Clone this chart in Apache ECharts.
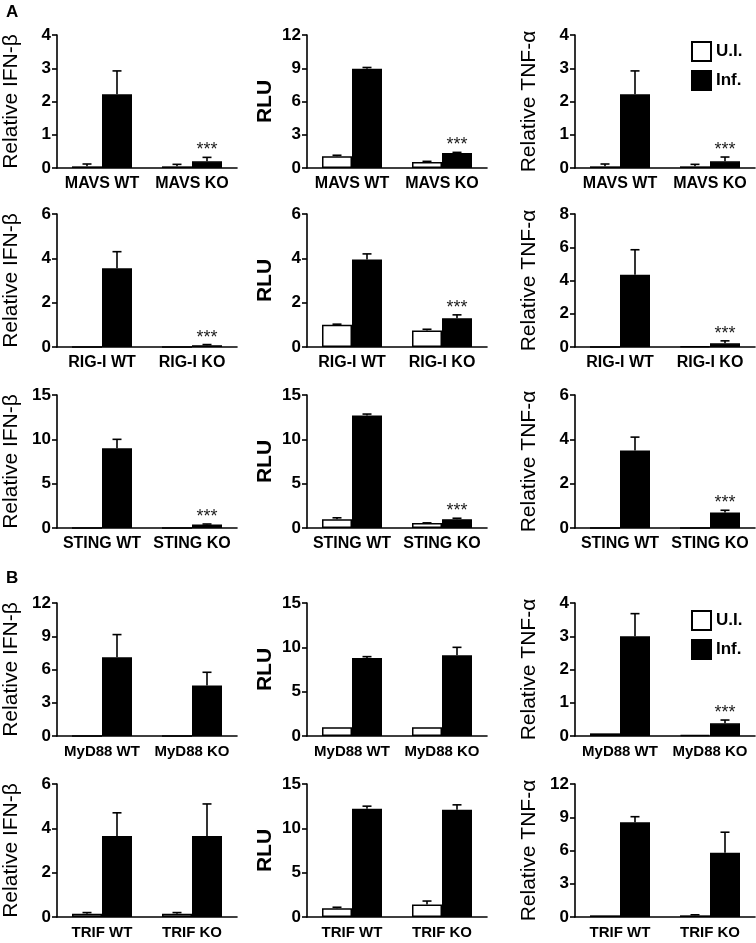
<!DOCTYPE html>
<html>
<head>
<meta charset="utf-8">
<script src="https://cdn.jsdelivr.net/npm/echarts@6/dist/echarts.min.js"></script>
<style>html,body{margin:0;padding:0;background:#fff}#c{width:756px;height:943px}</style>
</head>
<body>
<div id="c"></div>
<script>
// ---- data ----
const groups = [
  ['MAVS WT', 'MAVS KO'],
  ['RIG-I WT', 'RIG-I KO'],
  ['STING WT', 'STING KO'],
  ['MyD88 WT', 'MyD88 KO'],
  ['TRIF WT', 'TRIF KO']
];
const yTitles = ['Relative IFN-β', 'RLU', 'Relative TNF-α'];
const yMax  = [[4, 12, 4], [6, 6, 8], [15, 15, 6], [12, 15, 4], [6, 15, 12]];
const yStep = [[1, 3, 1], [2, 2, 2], [5, 5, 2], [3, 5, 1], [2, 5, 3]];
// U.I. means / errors [WT, KO]
const uiMean = [
  [[0.05, 0.05], [1.05, 0.55], [0.05, 0.05]],
  [[0, 0], [1.0, 0.75], [0, 0.03]],
  [[0, 0], [1.0, 0.55], [0, 0]],
  [[0, 0], [1.0, 1.0], [0.08, 0.03]],
  [[0.15, 0.15], [1.0, 1.4], [0.15, 0.15]]
];
const uiErr = [
  [[0.07, 0.06], [0.1, 0.05], [0.07, 0.06]],
  [[0, 0], [0.03, 0.05], [0, 0]],
  [[0, 0], [0.15, 0.03], [0, 0]],
  [[0, 0], [0, 0], [0, 0]],
  [[0.05, 0.05], [0.1, 0.4], [0, 0.05]]
];
// Inf. means / errors [WT, KO]
const infMean = [
  [[2.22, 0.2], [8.95, 1.35], [2.22, 0.2]],
  [[3.55, 0.08], [3.95, 1.3], [4.35, 0.22]],
  [[9.0, 0.4], [12.7, 1.0], [3.5, 0.7]],
  [[7.1, 4.55], [8.8, 9.1], [3.0, 0.38]],
  [[3.65, 3.65], [12.2, 12.1], [8.55, 5.8]]
];
const infErr = [
  [[0.7, 0.12], [0.12, 0.06], [0.7, 0.13]],
  [[0.75, 0.03], [0.25, 0.15], [1.5, 0.15]],
  [[1.0, 0.05], [0.15, 0.1], [0.6, 0.1]],
  [[2.05, 1.2], [0.15, 0.9], [0.68, 0.1]],
  [[1.05, 1.45], [0.3, 0.55], [0.5, 1.85]]
];
// significance mark on KO infected bar
const sigMark = [
  [true, true, true],
  [true, true, true],
  [true, true, true],
  [false, false, true],
  [false, false, false]
];

// ---- layout ----
const rowTop = [35, 214, 395, 603, 784];
const rowH = 133;
const colLeft = [55, 307, 575];
const colW = [182, 180, 180];
const barW = 30;
const fontA = "'Liberation Sans', Arial, Helvetica, sans-serif";

const grid = [], xAxis = [], yAxis = [], series = [];
for (let r = 0; r < 5; r++) {
  for (let c = 0; c < 3; c++) {
    const idx = r * 3 + c;
    grid.push({left: colLeft[c], top: rowTop[r], width: colW[c], height: rowH});
    xAxis.push({
      type: 'category', gridIndex: idx, data: groups[r],
      axisLine: {lineStyle: {color: '#000', width: 1.6}},
      axisTick: {alignWithLabel: true, length: 5, lineStyle: {color: '#000', width: 1.6}},
      axisLabel: {color: '#000', fontWeight: 'bold', fontSize: r < 3 ? 16 : 15, fontFamily: fontA, margin: 8, interval: 0}
    });
    const isRLU = c === 1;
    yAxis.push({
      type: 'value', gridIndex: idx, min: 0, max: yMax[r][c], interval: yStep[r][c],
      name: yTitles[c], nameLocation: 'middle', nameRotate: 90,
      nameGap: isRLU ? 31 : 35,
      nameTextStyle: {color: '#000', fontSize: 21, fontWeight: isRLU ? 'bold' : 'normal', fontFamily: fontA},
      axisLine: {show: true, lineStyle: {color: '#000', width: 1.6}},
      axisTick: {show: true, length: 5, lineStyle: {color: '#000', width: 1.6}},
      splitLine: {show: false},
      axisLabel: {color: '#000', fontWeight: 'bold', fontSize: 17, fontFamily: fontA, margin: 6}
    });
    series.push({
      type: 'bar', name: 'U.I.', xAxisIndex: idx, yAxisIndex: idx,
      data: uiMean[r][c], barWidth: barW, barGap: '0%',
      itemStyle: {color: '#fff', borderColor: '#000', borderWidth: 1.5}, silent: true
    });
    series.push({
      type: 'bar', name: 'Inf.', xAxisIndex: idx, yAxisIndex: idx,
      data: infMean[r][c], barWidth: barW, barGap: '0%',
      itemStyle: {color: '#000', borderColor: '#000', borderWidth: 1.5}, silent: true
    });
    const errData = [];
    for (let k = 0; k < 2; k++) {
      errData.push([k, 0, uiMean[r][c][k], uiErr[r][c][k], 0]);
      errData.push([k, 1, infMean[r][c][k], infErr[r][c][k], (k === 1 && sigMark[r][c]) ? 1 : 0]);
    }
    series.push({
      type: 'custom', xAxisIndex: idx, yAxisIndex: idx, silent: true, z: 5,
      encode: {x: 0, y: 2},
      data: errData,
      renderItem: function (params, api) {
        const cat = api.value(0), s = api.value(1), v = api.value(2), e = api.value(3), sig = api.value(4);
        const base = api.coord([cat, v]);
        const top = api.coord([cat, v + e]);
        const x = base[0] + (s === 0 ? -barW / 2 : barW / 2);
        const children = [];
        if (e > 0) {
          children.push({type: 'line', shape: {x1: x, y1: base[1], x2: x, y2: top[1]}, style: {stroke: '#000', lineWidth: 1.6}});
          children.push({type: 'line', shape: {x1: x - 4.5, y1: top[1], x2: x + 4.5, y2: top[1]}, style: {stroke: '#000', lineWidth: 1.6}});
        }
        if (sig) {
          children.push({type: 'text', x: x, y: top[1] + 2, style: {text: '***', fill: '#222', font: '18px ' + fontA, textAlign: 'center', textVerticalAlign: 'bottom'}});
        }
        return {type: 'group', children: children};
      }
    });
  }
}

const legendBase = {
  orient: 'vertical', icon: 'rect', itemWidth: 19, itemHeight: 19, itemGap: 8,
  selectedMode: false, data: ['U.I.', 'Inf.'],
  textStyle: {color: '#000', fontWeight: 'bold', fontSize: 17, fontFamily: fontA}
};

const chart = echarts.init(document.getElementById('c'), null, {renderer: 'canvas'});
chart.setOption({
  animation: false,
  backgroundColor: '#fff',
  grid: grid, xAxis: xAxis, yAxis: yAxis, series: series,
  legend: [
    Object.assign({}, legendBase, {left: 686, top: 36}),
    Object.assign({}, legendBase, {left: 686, top: 605})
  ],
  graphic: [
    {type: 'text', left: 6, top: 4, style: {text: 'A', font: 'bold 17px ' + fontA, fill: '#000'}},
    {type: 'text', left: 6, top: 570, style: {text: 'B', font: 'bold 17px ' + fontA, fill: '#000'}}
  ]
});
</script>
</body>
</html>
